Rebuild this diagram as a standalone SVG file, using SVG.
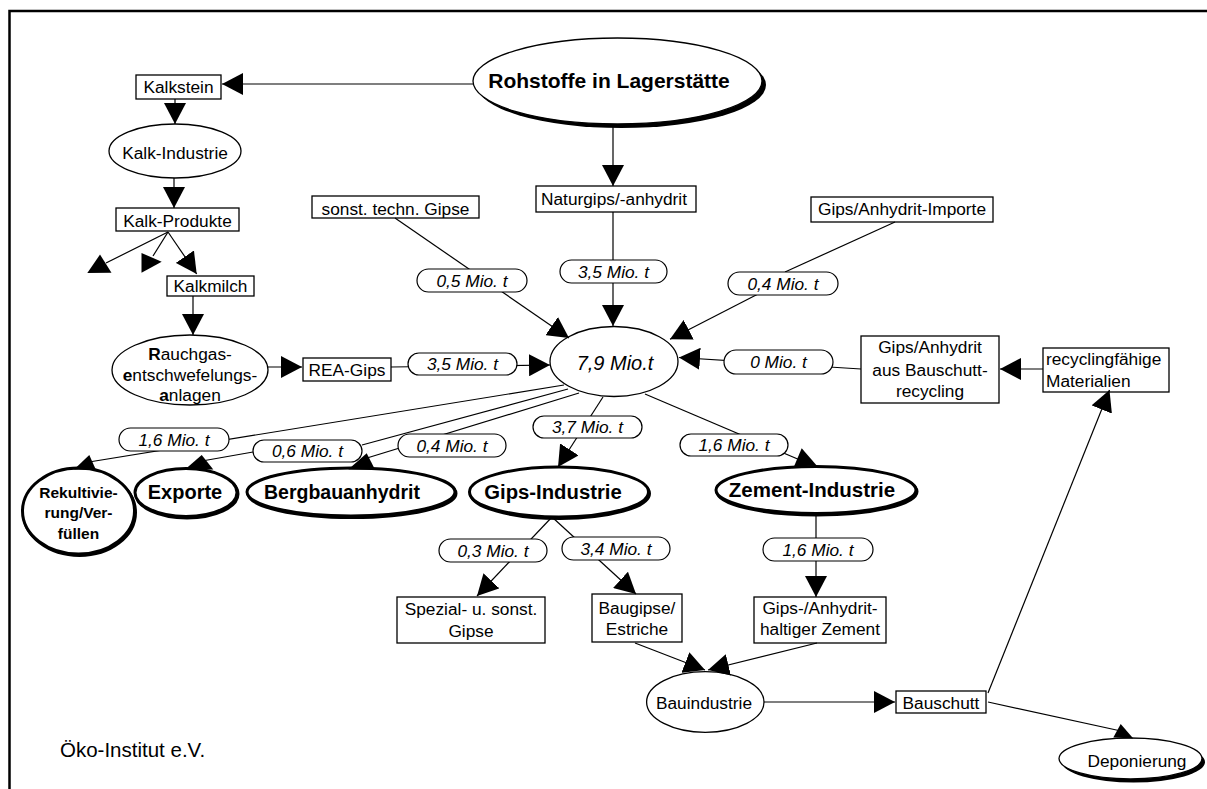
<svg xmlns="http://www.w3.org/2000/svg" width="1207" height="789" viewBox="0 0 1207 789">
<style>
text{font-family:"Liberation Sans",Arial,sans-serif;font-size:17.3px;fill:#000}
.m{text-anchor:middle}
.it{font-style:italic}
.bd{font-weight:bold}
.n{fill:#fff;stroke:#000;stroke-width:1.3}
.b{fill:#fff;stroke:#000;stroke-width:3}
.sh{fill:none;stroke:#000;stroke-width:3}
.c line,.c polyline{stroke:#000;stroke-width:1.2;fill:none}
.a{marker-end:url(#ah)}
.p{fill:#fff;stroke:#000;stroke-width:1.2}
.tri{fill:#000}
</style>
<defs>
<marker id="ah" markerUnits="userSpaceOnUse" markerWidth="22" markerHeight="22" refX="21" refY="11" orient="auto" viewBox="0 0 22 22"><path d="M0,0 L21,11 L0,22 z" fill="#000"/></marker>
</defs>
<rect width="1207" height="789" fill="#fff"/>
<g id="frame"><polyline points="9.5,789 9.5,11 1207,11" fill="none" stroke="#000" stroke-width="2.5"/></g>

<g id="rohstoffe"><ellipse cx="621.5" cy="85" rx="144.5" ry="43" fill="#000"/><ellipse class="n" cx="617.5" cy="81" rx="144.5" ry="43"/><text class="m bd" x="609" y="88" style="font-size:21px">Rohstoffe in Lagerstätte</text></g>
<g id="kalkstein"><rect class="n" x="136" y="75" width="85" height="24"/><text class="m" x="178.5" y="93">Kalkstein</text></g>
<g id="kalkindustrie"><ellipse class="n" cx="175" cy="151" rx="66" ry="27"/><text class="m" x="175" y="159">Kalk-Industrie</text></g>
<g id="kalkprodukte"><rect class="n" x="116" y="208" width="123" height="23"/><text class="m" x="177.5" y="226.5">Kalk-Produkte</text></g>
<g id="kalkmilch"><rect class="n" x="167" y="276" width="87" height="20"/><text class="m" x="210.5" y="291.5">Kalkmilch</text></g>
<g id="rauchgas"><ellipse class="n" cx="190" cy="370" rx="78" ry="35"/>
<text class="m" x="190" y="360"><tspan class="bd">R</tspan>auchgas-</text>
<text class="m" x="190" y="380.5"><tspan class="bd">e</tspan>ntschwefelungs-</text>
<text class="m" x="190" y="401"><tspan class="bd">a</tspan>nlagen</text></g>
<g id="reagips"><rect class="n" x="303" y="358" width="88" height="23"/><text class="m" x="347" y="376">REA-Gips</text></g>
<g id="naturgips"><rect class="n" x="536" y="186" width="160" height="26"/><text class="m" x="614" y="205">Naturgips/-anhydrit</text></g>
<g id="sonstgipse"><rect class="n" x="312" y="196" width="167" height="22"/><text class="m" x="395.5" y="214.5">sonst. techn. Gipse</text></g>
<g id="importe"><rect class="n" x="811" y="197" width="182" height="25"/><text class="m" x="902" y="215">Gips/Anhydrit-Importe</text></g>
<g id="zentrum"><ellipse class="n" cx="614" cy="361.5" rx="64" ry="35"/><text class="m it" x="615" y="369.5" style="font-size:20px">7,9 Mio.t</text></g>
<g id="bauschuttrecycling"><rect class="n" x="861" y="336" width="138" height="67"/>
<text class="m" x="930" y="353">Gips/Anhydrit</text><text class="m" x="930" y="375.5">aus Bauschutt-</text><text class="m" x="930" y="397">recycling</text></g>
<g id="recyclingmaterial"><rect class="n" x="1043" y="348" width="126" height="44"/>
<text x="1046" y="365">recyclingfähige</text><text x="1046" y="387">Materialien</text></g>
<g id="rekultivierung"><ellipse class="sh" cx="79.5" cy="512.5" rx="56" ry="43"/><ellipse class="b" cx="78.5" cy="511" rx="56" ry="43"/>
<text class="m bd" x="78.5" y="498" style="font-size:15.5px">Rekultivie-</text><text class="m bd" x="78.5" y="518" style="font-size:15.5px">rung/Ver-</text><text class="m bd" x="78.5" y="539" style="font-size:15.5px">füllen</text></g>
<g id="exporte"><ellipse class="sh" cx="187" cy="494" rx="51" ry="24"/><ellipse class="b" cx="186" cy="492.5" rx="51" ry="24"/><text class="m bd" x="185" y="499" style="font-size:20px">Exporte</text></g>
<g id="bergbauanhydrit"><ellipse class="sh" cx="352" cy="493.5" rx="104" ry="24"/><ellipse class="b" cx="351" cy="492" rx="104" ry="24"/><text class="m bd" x="342" y="499" style="font-size:19.5px">Bergbauanhydrit</text></g>
<g id="gipsindustrie"><ellipse class="sh" cx="560" cy="493.5" rx="89.5" ry="25"/><ellipse class="b" cx="559" cy="492" rx="89.5" ry="25"/><text class="m bd" x="553" y="498.5" style="font-size:20.3px">Gips-Industrie</text></g>
<g id="zementindustrie"><ellipse class="sh" cx="817" cy="491.5" rx="100" ry="23.5"/><ellipse class="b" cx="816" cy="490" rx="100" ry="23.5"/><text class="m bd" x="812" y="497" style="font-size:20.5px">Zement-Industrie</text></g>
<g id="spezialgipse"><rect class="n" x="397" y="597" width="148" height="46"/><text class="m" x="471" y="615">Spezial- u. sonst.</text><text class="m" x="471" y="636.5">Gipse</text></g>
<g id="baugipse"><rect class="n" x="592" y="594" width="90" height="48"/><text class="m" x="637" y="613.5">Baugipse/</text><text class="m" x="637" y="635">Estriche</text></g>
<g id="zement"><rect class="n" x="754" y="597" width="132" height="46"/><text class="m" x="820" y="613.5">Gips-/Anhydrit-</text><text class="m" x="820" y="634.5">haltiger Zement</text></g>
<g id="bauindustrie"><ellipse class="n" cx="705.3" cy="702" rx="58.7" ry="30.3"/><text class="m" x="704" y="708.5">Bauindustrie</text></g>
<g id="bauschutt"><rect class="n" x="896" y="691" width="90" height="22"/><text class="m" x="941" y="708.5">Bauschutt</text></g>
<g id="deponierung"><ellipse cx="1133.5" cy="762" rx="71.5" ry="20.5" fill="#000"/><ellipse class="n" cx="1130.5" cy="758.5" rx="71.5" ry="20.5"/><text class="m" x="1137" y="766.5">Deponierung</text></g>
<g id="quelle"><text x="60" y="756.5" style="font-size:20.5px">Öko-Institut e.V.</text></g>

<g id="connectors" class="c">
<line class="a" x1="473" y1="84" x2="222" y2="84"/>
<line class="a" x1="613" y1="124" x2="613" y2="186"/>
<line class="a" x1="175" y1="99" x2="175" y2="124"/>
<line class="a" x1="174" y1="178" x2="174" y2="208"/>
<line x1="168" y1="232" x2="106" y2="263"/>
<polygon class="tri" points="87.3,273 100,254.5 111.5,272.7"/>
<line x1="168" y1="232" x2="153" y2="256"/>
<polygon class="tri" points="141.5,253 161.7,261.7 141.5,272.7"/>
<line class="a" x1="168" y1="232" x2="196.7" y2="274"/>
<line class="a" x1="193" y1="296" x2="193" y2="335"/>
<line class="a" x1="268" y1="367" x2="302" y2="367"/>
<line class="a" x1="391" y1="367" x2="550" y2="365"/>
<line class="a" x1="395" y1="218" x2="569" y2="338"/>
<line class="a" x1="613" y1="212" x2="613" y2="326"/>
<line x1="895" y1="222" x2="785" y2="272"/>
<line class="a" x1="760" y1="293" x2="670" y2="339.3"/>
<line class="a" x1="861" y1="369" x2="679" y2="357.5"/>
<line class="a" x1="1043" y1="369" x2="1000" y2="369"/>
<line x1="564" y1="385" x2="89" y2="462"/>
<polygon class="tri" points="74,469.5 89.3,455 96,470"/>
<polyline points="568,389 362,445"/>
<line x1="253" y1="452" x2="202" y2="461"/>
<polygon class="tri" points="185,469.5 201.7,455 213.3,469.5"/>
<line x1="579" y1="393" x2="367" y2="458"/>
<polygon class="tri" points="348.3,469.5 366.7,453.3 375,469.5"/>
<line class="a" x1="603" y1="397" x2="558" y2="467"/>
<line x1="645" y1="394" x2="800" y2="460"/>
<polygon class="tri" points="794,466.5 801.7,448.3 816.7,465.5"/>
<line class="a" x1="552" y1="517" x2="477" y2="596"/>
<line class="a" x1="552" y1="517" x2="636" y2="594"/>
<line class="a" x1="816" y1="514" x2="816" y2="597"/>
<line class="a" x1="635" y1="643" x2="705" y2="670"/>
<line class="a" x1="817" y1="643" x2="708" y2="670"/>
<line class="a" x1="764" y1="702" x2="895" y2="702"/>
<line class="a" x1="988" y1="693" x2="1109.5" y2="390"/>
<line x1="988" y1="702" x2="1121" y2="731"/>
<polygon class="tri" points="1113.3,737.5 1120.7,724 1133.3,738.5"/>

<g id="labels">
<rect class="p" x="417" y="269" width="110" height="23" rx="11.5"/><text class="m it" x="472" y="286.5">0,5 Mio. t</text>
<rect class="p" x="560" y="260" width="107" height="23" rx="11.5"/><text class="m it" x="613.5" y="277.5">3,5 Mio. t</text>
<rect class="p" x="728" y="272" width="110" height="23" rx="11.5"/><text class="m it" x="783" y="289.5">0,4 Mio. t</text>
<rect class="p" x="408" y="353" width="109" height="22" rx="11"/><text class="m it" x="462.5" y="370">3,5 Mio. t</text>
<rect class="p" x="724" y="350" width="109" height="24" rx="12"/><text class="m it" x="778.5" y="368">0 Mio. t</text>
<rect class="p" x="119" y="428" width="110" height="23" rx="11.5"/><text class="m it" x="174" y="445.5">1,6 Mio. t</text>
<rect class="p" x="253" y="440" width="109" height="22" rx="11"/><text class="m it" x="307.5" y="457">0,6 Mio. t</text>
<rect class="p" x="398" y="434" width="108" height="23" rx="11.5"/><text class="m it" x="452" y="451.5">0,4 Mio. t</text>
<rect class="p" x="533" y="416" width="109" height="22" rx="11"/><text class="m it" x="587.5" y="433">3,7 Mio. t</text>
<rect class="p" x="680" y="434" width="108" height="22" rx="11"/><text class="m it" x="734" y="451">1,6 Mio. t</text>
<rect class="p" x="439" y="539" width="108" height="23" rx="11.5"/><text class="m it" x="493" y="556.5">0,3 Mio. t</text>
<rect class="p" x="562" y="537" width="108" height="23" rx="11.5"/><text class="m it" x="616" y="554.5">3,4 Mio. t</text>
<rect class="p" x="763" y="538" width="110" height="23" rx="11.5"/><text class="m it" x="818" y="555.5">1,6 Mio. t</text>
</g>
</g>
</svg>
